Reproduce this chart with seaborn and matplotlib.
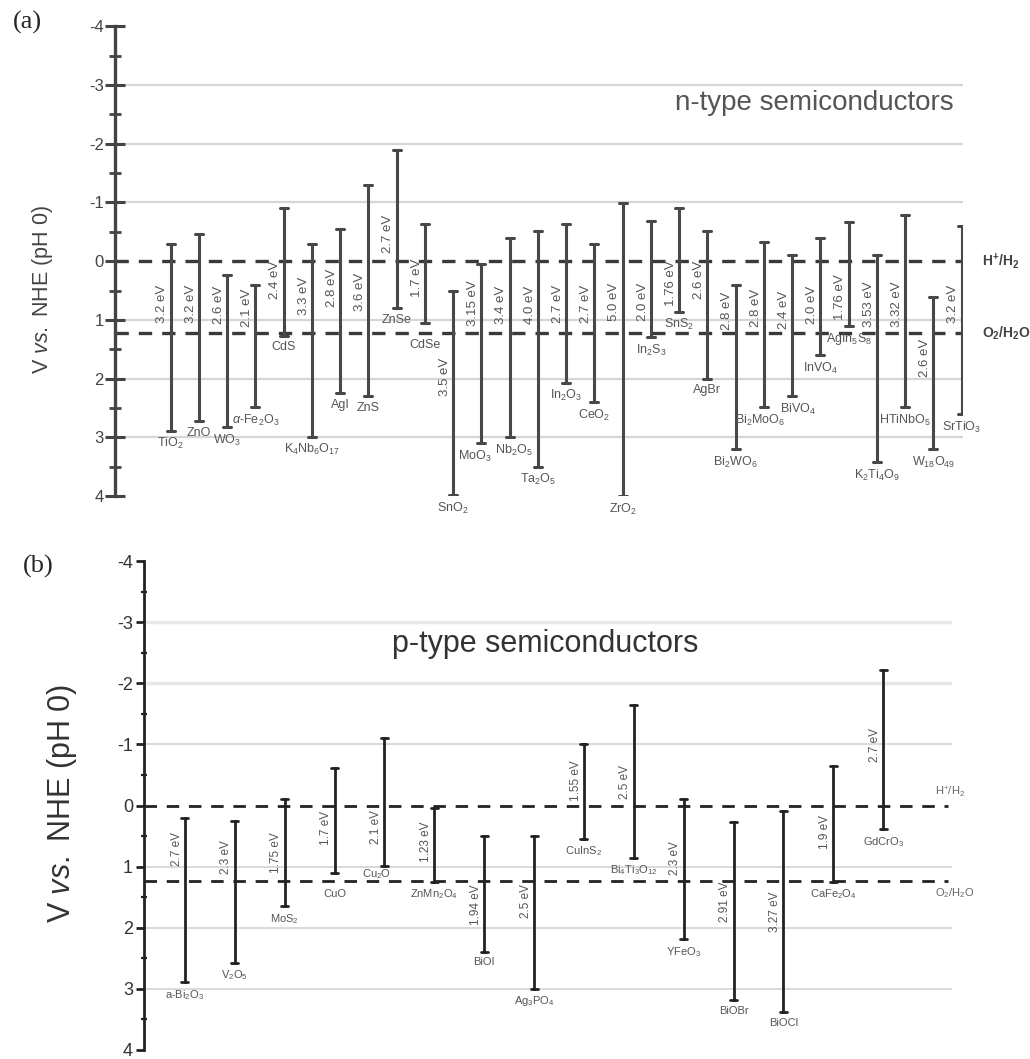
import numpy as np
import pandas as pd
import seaborn as sns
import matplotlib.pyplot as plt
from matplotlib.ticker import MultipleLocator

# ---- panel (a): n-type semiconductors ----
n_names = [r'TiO$_2$', 'ZnO', r'WO$_3$', r'$\alpha$-Fe$_2$O$_3$', 'CdS', r'K$_4$Nb$_6$O$_{17}$',
           'AgI', 'ZnS', 'ZnSe', 'CdSe', r'SnO$_2$', r'MoO$_3$', r'Nb$_2$O$_5$', r'Ta$_2$O$_5$',
           r'In$_2$O$_3$', r'CeO$_2$', r'ZrO$_2$', r'In$_2$S$_3$', r'SnS$_2$', 'AgBr',
           r'Bi$_2$WO$_6$', r'Bi$_2$MoO$_6$', r'BiVO$_4$', r'InVO$_4$', r'AgIn$_5$S$_8$',
           r'K$_2$Ti$_4$O$_9$', r'HTiNbO$_5$', r'W$_{18}$O$_{49}$', r'SrTiO$_3$']
n_cb = [-0.30, -0.47, 0.24, 0.40, -0.90, -0.30, -0.54, -1.30, -1.89, -0.64, 0.50, 0.05, -0.40,
        -0.52, -0.63, -0.30, -0.99, -0.69, -0.90, -0.51, 0.41, -0.32, -0.10, -0.40, -0.66,
        -0.10, -0.79, 0.61, -0.60]
n_vb = [2.89, 2.73, 2.83, 2.49, 1.27, 2.99, 2.25, 2.30, 0.80, 1.06, 3.99, 3.10, 3.00, 3.50,
        2.07, 2.40, 4.00, 1.29, 0.86, 2.00, 3.20, 2.49, 2.30, 1.60, 1.10, 3.42, 2.49, 3.20, 2.61]
n_gap = ['3.2 eV', '3.2 eV', '2.6 eV', '2.1 eV', '2.4 eV', '3.3 eV', '2.8 eV', '3.6 eV', '2.7 eV',
         '1.7 eV', '3.5 eV', '3.15 eV', '3.4 eV', '4.0 eV', '2.7 eV', '2.7 eV', '5.0 eV', '2.0 eV',
         '1.76 eV', '2.6 eV', '2.8 eV', '2.8 eV', '2.4 eV', '2.0 eV', '1.76 eV', '3.53 eV',
         '3.32 eV', '2.6 eV', '3.2 eV']
n_gap_v = [0.73, 0.73, 0.75, 0.80, 0.32, 0.59, 0.46, 0.52, -0.47, 0.29, 1.97, 0.72, 0.74, 0.74,
           0.73, 0.73, 0.69, 0.70, 0.38, 0.32, 0.85, 0.80, 0.83, 0.75, 0.61, 0.73, 0.73, 1.65, 0.73]

# ---- panel (b): p-type semiconductors ----
p_names = [r'a-Bi$_2$O$_3$', r'V$_2$O$_5$', r'MoS$_2$', 'CuO', r'Cu$_2$O', r'ZnMn$_2$O$_4$', 'BiOI',
           r'Ag$_3$PO$_4$', r'CuInS$_2$', r'Bi$_4$Ti$_3$O$_{12}$', r'YFeO$_3$', 'BiOBr', 'BiOCl',
           r'CaFe$_2$O$_4$', r'GdCrO$_3$']
p_cb = [0.20, 0.25, -0.11, -0.61, -1.11, 0.04, 0.50, 0.50, -1.00, -1.65, -0.11, 0.27, 0.09, -0.64, -2.21]
p_vb = [2.89, 2.57, 1.65, 1.10, 0.99, 1.25, 2.39, 3.00, 0.54, 0.86, 2.19, 3.19, 3.38, 1.25, 0.39]
p_gap = ['2.7 eV', '2.3 eV', '1.75 eV', '1.7 eV', '2.1 eV', '1.23 eV', '1.94 eV', '2.5 eV',
         '1.55 eV', '2.5 eV', '2.3 eV', '2.91 eV', '3.27 eV', '1.9 eV', '2.7 eV']
p_gap_v = [0.71, 0.85, 0.77, 0.37, 0.35, 0.60, 1.63, 1.56, -0.41, -0.38, 0.86, 1.58, 1.74, 0.43, -0.99]

redox_levels = [0.0, 1.23]
redox_labels = [r'H$^{+}$/H$_2$', r'O$_2$/H$_2$O']
grid_levels = [-3, -2, -1, 1, 2, 3]

# small label nudges (points) where the names would collide with lines/each other
n_nudge = {9: (0, -7), 11: (-5, 0), 12: (3, 0), 21: (-3, 0), 22: (4, 0)}
p_nudge = {3: (0, -8), 4: (-6, 3)}

sns.set_style('white')
plt.rcParams['font.family'] = ['Liberation Sans', 'DejaVu Sans']
plt.rcParams['mathtext.fontset'] = 'custom'
plt.rcParams['mathtext.rm'] = 'Liberation Sans'
plt.rcParams['mathtext.it'] = 'Liberation Sans:italic'
plt.rcParams['mathtext.bf'] = 'Liberation Sans:bold'
plt.rcParams['axes.unicode_minus'] = False

fig = plt.figure(figsize=(10.30, 10.59), dpi=100)


def band_panel(ax, names, cb, vb, gaps, gap_v, nudge, color, text_color, capsize, lw,
               gap_fs, name_fs, xlim):
    df = pd.DataFrame({'material': names * 2, 'v': list(cb) + list(vb)})
    sns.pointplot(data=df, x='material', y='v', order=names, ax=ax,
                  errorbar=lambda s: (s.min(), s.max()), capsize=capsize,
                  color=color, linestyle='none', marker='',
                  err_kws={'linewidth': lw})
    for i, name in enumerate(names):
        dx, dy = nudge.get(i, (0, 0))
        ax.annotate(gaps[i], (i, gap_v[i]), xytext=(-6, 0), textcoords='offset points',
                    rotation=90, ha='center', va='center', fontsize=gap_fs, color=text_color)
        ax.annotate(name, (i, vb[i]), xytext=(dx, -4 + dy), textcoords='offset points',
                    ha='center', va='top', fontsize=name_fs, color=text_color,
                    annotation_clip=False)
    ax.set_xlim(*xlim)
    ax.set_ylim(4, -4)
    ax.set_xticks([])
    ax.set_xlabel('')
    ax.yaxis.set_major_locator(MultipleLocator(1))
    ax.yaxis.set_minor_locator(MultipleLocator(0.5))
    for s in ['top', 'right', 'bottom']:
        ax.spines[s].set_visible(False)


# panel (a)
ax1 = fig.add_axes([115 / 1030, 1 - 496 / 1059, 848 / 1030, 469.7 / 1059])
band_panel(ax1, n_names, n_cb, n_vb, n_gap, n_gap_v, n_nudge, '#484848', '#555555', 0.28, 2.2,
           9.5, 9, (-1.97, 28.05))
for g in grid_levels:
    ax1.axhline(g, color='#d6d6d6', lw=1.6, zorder=0)
for r in redox_levels:
    ax1.axhline(r, color='#3a3a3a', lw=2.4, ls=(0, (4, 3)), zorder=1)
for r, lab in zip(redox_levels, redox_labels):
    ax1.annotate(r'$\mathbf{' + lab.replace('$', '') + '}$', (1.022, r),
                 xycoords=('axes fraction', 'data'), ha='left', va='center',
                 fontsize=10, color='#444444', annotation_clip=False)
ax1.spines['left'].set_linewidth(2.4)
ax1.spines['left'].set_color('#444444')
ax1.tick_params(axis='y', which='both', left=True)
ax1.tick_params(axis='y', which='major', direction='inout', length=14, width=2.2,
                color='#444444', labelcolor='#444444', labelsize=12, pad=1)
ax1.tick_params(axis='y', which='minor', direction='inout', length=8, width=2.0, color='#444444')
ax1.set_ylabel(r'V $\mathit{vs.}$ NHE (pH 0)', fontsize=15.5, color='#444444')
ax1.yaxis.set_label_coords(-0.071, 0.44)
ax1.text(0.825, 0.837, 'n-type semiconductors', transform=ax1.transAxes,
         ha='center', va='center', fontsize=20, color='#555555')

# panel (b) -- bottom kept a few pixels above the edge so the "4" label stays inside
ax2 = fig.add_axes([144 / 1030, 1 - 1050 / 1059, 808 / 1030, 489 / 1059])
band_panel(ax2, p_names, p_cb, p_vb, p_gap, p_gap_v, p_nudge, '#222222', '#555555', 0.14, 2.0,
           8.5, 8, (-0.82, 15.38))
for g in grid_levels:
    ax2.axhline(g, color='#e8e8e8' if g < -1 else '#d9d9d9', lw=2.5 if g < -1 else 1.4, zorder=0)
ax2.axhline(redox_levels[0], xmax=0.995, color='#222222', lw=2.0, ls=(0, (4.5, 3.5)), zorder=1)
ax2.axhline(redox_levels[1], xmax=0.995, color='#222222', lw=2.0, ls=(0, (4.5, 3.5)), zorder=1)
ax2.annotate(redox_labels[0], (0.979, redox_levels[0]), xytext=(0, 4), textcoords='offset points',
             xycoords=('axes fraction', 'data'), ha='left', va='bottom',
             fontsize=8, color='#666666', annotation_clip=False)
ax2.annotate(redox_labels[1], (0.979, redox_levels[1]), xytext=(0, -4), textcoords='offset points',
             xycoords=('axes fraction', 'data'), ha='left', va='top',
             fontsize=8, color='#666666', annotation_clip=False)
ax2.spines['left'].set_linewidth(2.0)
ax2.spines['left'].set_color('#222222')
ax2.tick_params(axis='y', which='both', left=True)
ax2.tick_params(axis='y', which='major', direction='out', length=6, width=2.0,
                color='#222222', labelcolor='#333333', labelsize=13, pad=2)
ax2.tick_params(axis='y', which='minor', direction='inout', length=5, width=1.6, color='#222222')
ax2.set_ylabel(r'V $\mathit{vs.}$ NHE (pH 0)', fontsize=22, color='#333333')
ax2.yaxis.set_label_coords(-0.080, 0.504)
ax2.text(0.496, 0.83, 'p-type semiconductors', transform=ax2.transAxes,
         ha='center', va='center', fontsize=22, color='#333333')

fig.text(27 / 1030, 1 - 22 / 1059, '(a)', fontsize=19, family='Liberation Serif',
         ha='center', va='center')
fig.text(38 / 1030, 1 - 566 / 1059, '(b)', fontsize=19, family='Liberation Serif',
         ha='center', va='center')

fig.savefig('out.png', dpi=100)
